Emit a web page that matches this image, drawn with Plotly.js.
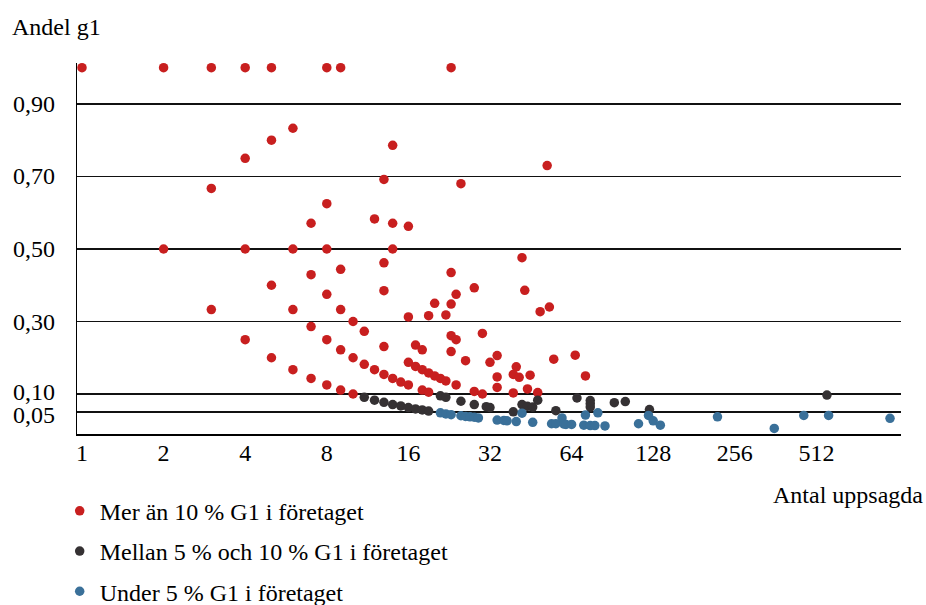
<!DOCTYPE html>
<html>
<head>
<meta charset="utf-8">
<script src="https://cdn.plot.ly/plotly-3.0.1.min.js"></script>
<style>html,body{margin:0;padding:0;background:#fff;}#chart{width:926px;height:605px;}</style>
</head>
<body>
<div id="chart"></div>
<script>
// Series: "Mer än 10 % G1 i företaget"
const redX = [1,2,3,4,5,8,9,23,
  6,5,4,3,8,7,
  2,4,6,8,14,
  14,52,13,25,12,14,16,
  42,5,7,9,13,23,28,43,24,8,
  3,6,9,13,20,23,22,19,16,49,53,10,11,7,4,8,9,5,6,7,8,9,10,
  10,11,12,13,13,14,15,16,16,17,18,19,20,21,22,24,17,18,23,24,23,26,30,32,34,34,34,28,30,18,19,
  40,39,41,45,39,44,48,55,66,72];
const redY = [1,1,1,1,1,1,1,1,
  0.833,0.8,0.75,0.667,0.625,0.571,
  0.5,0.5,0.5,0.5,0.5,
  0.786,0.73,0.692,0.68,0.583,0.571,0.5625,
  0.476,0.4,0.429,0.444,0.462,0.435,0.393,0.386,0.375,0.375,
  0.333,0.333,0.333,0.385,0.35,0.348,0.318,0.316,0.3125,0.327,0.34,0.3,0.273,0.286,0.25,0.25,0.222,0.2,0.167,0.143,0.125,0.111,0.1,
  0.2,0.182,0.167,0.231,0.154,0.143,0.133,0.125,0.1875,0.176,0.167,0.158,0.15,0.143,0.136,0.125,0.235,0.222,0.261,0.25,0.217,0.192,0.267,0.1875,0.206,0.147,0.118,0.107,0.1,0.111,0.105,
  0.175,0.154,0.146,0.152,0.103,0.114,0.104,0.196,0.207,0.15];

// Series: "Mellan 5 % och 10 % G1 i företaget"
const darkX = [11,12,13,14,15,16,17,18,19,21,22,25,28,31,32,39,42,44,46,48,56,67,75,75,75,92,101,124,560];
const darkY = [0.091,0.083,0.077,0.071,0.067,0.0625,0.059,0.056,0.053,0.095,0.091,0.08,0.071,0.065,0.0625,0.051,0.071,0.066,0.064,0.083,0.054,0.089,0.082,0.073,0.064,0.076,0.079,0.057,0.097];

// Series: "Under 5 % G1 i företaget"
const blueX = [21,22,23,25,26,27,28,29,34,36,37,40,42,46,54,56,59,60,61,64,71,72,75,78,80,85,113,123,128,136,221,358,460,568,957];
const blueY = [0.048,0.045,0.043,0.04,0.038,0.037,0.036,0.034,0.028,0.027,0.026,0.024,0.047,0.022,0.018,0.018,0.034,0.017,0.016,0.016,0.014,0.042,0.013,0.013,0.048,0.012,0.018,0.041,0.026,0.014,0.037,0.005,0.041,0.041,0.033];

const seriesNames = ['Mer än 10 % G1 i företaget','Mellan 5 % och 10 % G1 i företaget','Under 5 % G1 i företaget'];
const xTicks = [1,2,4,8,16,32,64,128,256,512];
const yTicks = [0.05,0.10,0.30,0.50,0.70,0.90];
const yTickText = ['0,05','0,10','0,30','0,50','0,70','0,90'];

const FONT = 'Liberation Serif';
function tr(x,y,name,color,g){
  return {type:'scatter',mode:'markers',x:x,y:y,name:name,legendgroup:g,
    marker:{color:color,size:9.5,line:{width:0}},cliponaxis:false,hoverinfo:'x+y'};
}
const data = [
  tr(redX,redY,seriesNames[0],'#c81f1f','a'),
  tr(darkX,darkY,seriesNames[1],'#353133','b'),
  tr(blueX,blueY,seriesNames[2],'#3a7099','c')
];
const yLabelShift = {0.05:-3, 0.10:2};
const yLabelAnn = yTicks.map((v,i)=>({text:yTickText[i],xref:'paper',yref:'y',x:-0.0243,y:v,
  xanchor:'right',yanchor:'middle',yshift:(yLabelShift[v]||0),showarrow:false,
  font:{family:FONT,size:24,color:'#000'}}));
const layout = {
  width:926,height:605,
  margin:{l:77,r:25,t:63,b:171,autoexpand:false},
  paper_bgcolor:'#fff',plot_bgcolor:'#fff',
  font:{family:FONT,size:24,color:'#000'},
  xaxis:{type:'log',range:[-0.0184,3.0214],tickvals:xTicks,ticktext:xTicks.map(String),
    showgrid:false,zeroline:false,showline:true,linecolor:'#000',linewidth:1.5,ticks:'',
    tickfont:{family:FONT,size:24,color:'#000'},ticklabelstandoff:-3},
  yaxis:{range:[-0.0103,1.013],tickvals:yTicks,showticklabels:false,
    showgrid:true,gridcolor:'#111',gridwidth:1.4,zeroline:false,showline:true,linecolor:'#000',linewidth:1.5,ticks:''},
  showlegend:true,
  legend:{orientation:'v',x:-0.021,y:-0.1476,xanchor:'left',yanchor:'top',traceorder:'grouped',tracegroupgap:6,
    font:{family:FONT,size:24,color:'#000'},bgcolor:'rgba(0,0,0,0)'},
  annotations:yLabelAnn.concat([
    {text:'Andel g1',xref:'paper',yref:'paper',x:-0.0813,y:1.097,xanchor:'left',yanchor:'middle',showarrow:false,font:{family:FONT,size:24,color:'#000'}},
    {text:'Antal uppsagda',xref:'paper',yref:'paper',x:1.029,y:-0.1644,xanchor:'right',yanchor:'middle',showarrow:false,font:{family:FONT,size:24,color:'#000'}}
  ])
};
Plotly.newPlot('chart',data,layout,{displayModeBar:false,staticPlot:true});
</script>
</body>
</html>
